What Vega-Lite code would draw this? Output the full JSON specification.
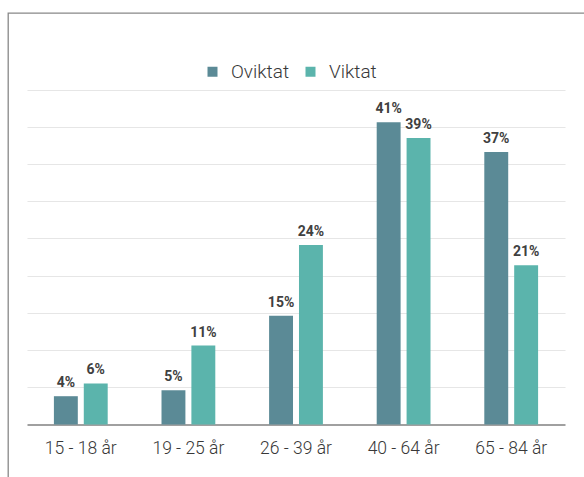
{
  "$schema": "https://vega.github.io/schema/vega-lite/v6.json",
  "autosize": "none",
  "width": 578,
  "height": 466,
  "padding": {"left": 8, "top": 13, "right": -2, "bottom": -2},
  "background": "#ffffff",
  "data": {
    "values": [
      {"age": "15 - 18 år", "group": "Oviktat", "value": 0.038},
      {"age": "15 - 18 år", "group": "Viktat", "value": 0.0552},
      {"age": "19 - 25 år", "group": "Oviktat", "value": 0.046},
      {"age": "19 - 25 år", "group": "Viktat", "value": 0.106},
      {"age": "26 - 39 år", "group": "Oviktat", "value": 0.146},
      {"age": "26 - 39 år", "group": "Viktat", "value": 0.241},
      {"age": "40 - 64 år", "group": "Oviktat", "value": 0.406},
      {"age": "40 - 64 år", "group": "Viktat", "value": 0.385},
      {"age": "65 - 84 år", "group": "Oviktat", "value": 0.366},
      {"age": "65 - 84 år", "group": "Viktat", "value": 0.214}
    ]
  },
  "encoding": {
    "x": {
      "field": "age",
      "type": "nominal",
      "sort": null,
      "scale": {"range": [19, 557], "paddingInner": 0.5, "paddingOuter": 0.25},
      "axis": {
        "title": null,
        "orient": "bottom",
        "offset": -54.5,
        "labelAngle": 0,
        "labelFont": "Roboto",
        "labelFontSize": 17.5,
        "labelFontWeight": 300,
        "labelColor": "#383838",
        "labelPadding": 15,
        "ticks": false,
        "grid": false,
        "domainColor": "#808080",
        "domainWidth": 1.3
      }
    },
    "xOffset": {
      "field": "group",
      "type": "nominal",
      "sort": ["Oviktat", "Viktat"],
      "scale": {"paddingInner": 0.2, "paddingOuter": 0}
    },
    "y": {
      "field": "value",
      "type": "quantitative",
      "scale": {"domain": [0, 0.45], "range": [411.5, 76.5], "nice": false, "zero": true},
      "axis": {
        "title": null,
        "labels": false,
        "ticks": false,
        "domain": false,
        "grid": true,
        "gridColor": "#e6e6e6",
        "gridWidth": 1.2,
        "values": [0.05, 0.1, 0.15, 0.2, 0.25, 0.3, 0.35, 0.4, 0.45]
      }
    }
  },
  "layer": [
    {
      "mark": {"type": "bar"},
      "encoding": {
        "color": {
          "field": "group",
          "type": "nominal",
          "sort": ["Oviktat", "Viktat"],
          "scale": {"domain": ["Oviktat", "Viktat"], "range": ["#5b8a96", "#5bb4ac"]},
          "legend": {
            "title": null,
            "orient": "none",
            "direction": "horizontal",
            "legendX": 195,
            "legendY": 49,
            "padding": 0,
            "symbolType": "square",
            "symbolSize": 100,
            "symbolStrokeWidth": 0,
            "labelFont": "Roboto",
            "labelFontSize": 19,
            "labelFontWeight": 300,
            "labelColor": "#383838",
            "labelOffset": 9,
            "columnPadding": 11
          }
        }
      }
    },
    {
      "mark": {
        "type": "text",
        "baseline": "alphabetic",
        "dy": -9,
        "font": "Roboto",
        "fontWeight": "bold",
        "fontSize": 14,
        "color": "#404040"
      },
      "encoding": {
        "text": {"field": "value", "type": "quantitative", "format": ".0%"}
      }
    }
  ],
  "config": {
    "view": {"stroke": "#888888", "strokeWidth": 1.3}
  }
}
